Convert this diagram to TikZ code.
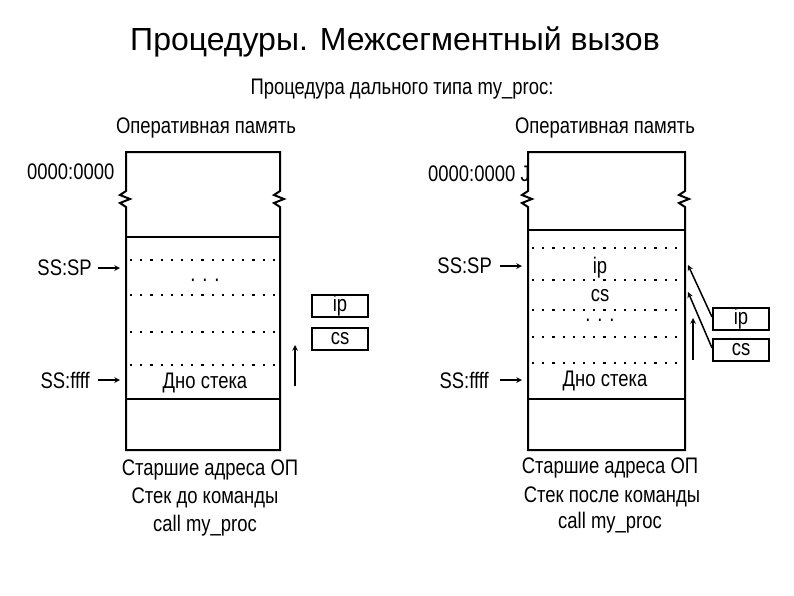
\documentclass[tikz,border=0pt]{standalone}
\usepackage{fontspec}
\setmainfont{Liberation Sans}
\newfontfamily\narrow[FakeStretch=0.82]{Liberation Sans}
\begin{document}
\begin{tikzpicture}[x=1pt,y=-1pt,
  lbl/.style={font=\narrow\fontsize{22.5}{25}\selectfont,inner sep=0pt},
  thickl/.style={line width=2.4pt},
  wall/.style={line width=2pt},
  dots/.style={line width=2.2pt,dash pattern=on 2.2pt off 8pt},
  reg/.style={draw,line width=2pt,minimum width=56pt,minimum height=22pt,font=\narrow\fontsize{22.5}{25}\selectfont,inner sep=0pt},
  arr/.style={->,line width=1.5pt,>=stealth}]
\useasboundingbox (0,0) rectangle (794,595);
\node[font=\fontsize{32}{36}\selectfont] (title) at (395,42) {Процедуры. Межсегментный вызов};
\node[lbl] (sub) at (402,89) {Процедура дального типа my\_proc:};
% left
\node[lbl] (lram) at (206,128) {Оперативная память};
\draw[wall] (126,237) -- (126,207) -- (120,203) -- (130,199) -- (120,195) -- (126,191) -- (126,152) -- (280,152) -- (280,191) -- (274,195) -- (284,199) -- (274,203) -- (280,207) -- (280,450) -- (126,450) -- (126,237);
\draw[thickl] (126,237) -- (280,237);
\draw[thickl] (126,399) -- (280,399);
\foreach \yy in {260,295,332,365} \draw[dots] (130,\yy) -- (275,\yy);
\node[lbl,anchor=west] (l0) at (27,172) {0000:0000};
\node[lbl,anchor=east] (lsp) at (92,268) {SS:SP};
\coordinate (lspA) at (98,268); \coordinate (lspB) at (120,268);
\draw[arr] (lspA) -- (lspB);
\node[lbl] (ldots) at (205,280) {. . .};
\node[lbl,anchor=east] (lff) at (90,380) {SS:ffff};
\coordinate (lffA) at (98,380); \coordinate (lffB) at (120,380);
\draw[arr] (lffA) -- (lffB);
\node[lbl] (ldno) at (205,383) {Дно стека};
\node[reg] (lip) at (340,306) {ip};
\node[reg] (lcs) at (340,339) {cs};
\coordinate (lupA) at (295,386); \coordinate (lupB) at (295,345);
\draw[arr] (lupA) -- (lupB);
\node[lbl] (l1) at (210,470) {Старшие адреса ОП};
\node[lbl] (l2) at (205,498) {Стек до команды};
\node[lbl] (l3) at (205,526) {call my\_proc};
% right
\node[lbl] (rram) at (605,128) {Оперативная память};
\draw[wall] (528,230) -- (528,207) -- (522,203) -- (532,199) -- (522,195) -- (528,191) -- (528,152) -- (685,152) -- (685,191) -- (679,195) -- (689,199) -- (679,203) -- (685,207) -- (685,450) -- (528,450) -- (528,230);
\draw[line width=1.6pt] (528,230) -- (685,230);
\draw[thickl] (528,399) -- (685,399);
\foreach \yy in {248,280,310,337,363} \draw[dots] (532,\yy) -- (680,\yy);
\node[lbl,anchor=west] (r0) at (428,174) {0000:0000 J};
\node[lbl,anchor=east] (rsp) at (492,266) {SS:SP};
\coordinate (rspA) at (500,266); \coordinate (rspB) at (522,266);
\draw[arr] (rspA) -- (rspB);
\node[lbl] (rip) at (600,268) {ip};
\node[lbl] (rcs) at (600,296) {cs};
\node[lbl] (rdots) at (600,320) {. . .};
\node[lbl,anchor=east] (rff) at (489,380) {SS:ffff};
\coordinate (rffA) at (500,380); \coordinate (rffB) at (522,380);
\draw[arr] (rffA) -- (rffB);
\node[lbl] (rdno) at (605,381) {Дно стека};
\node[reg] (ripb) at (741,319) {ip};
\node[reg] (rcsb) at (741,350) {cs};
\coordinate (rt1) at (688,265); \coordinate (rt2) at (688,292);
\draw[arr] (ripb.west) ++(0,-2) coordinate (rs1) -- (rt1);
\draw[arr] (rcsb.west) ++(0,-2) coordinate (rs2) -- (rt2);
\coordinate (rupA) at (693,360); \coordinate (rupB) at (693,318);
\draw[arr] (rupA) -- (rupB);
\node[lbl] (r1) at (610,468) {Старшие адреса ОП};
\node[lbl] (r2) at (612,497) {Стек после команды};
\node[lbl] (r3) at (610,523) {call my\_proc};
\end{tikzpicture}
\end{document}
